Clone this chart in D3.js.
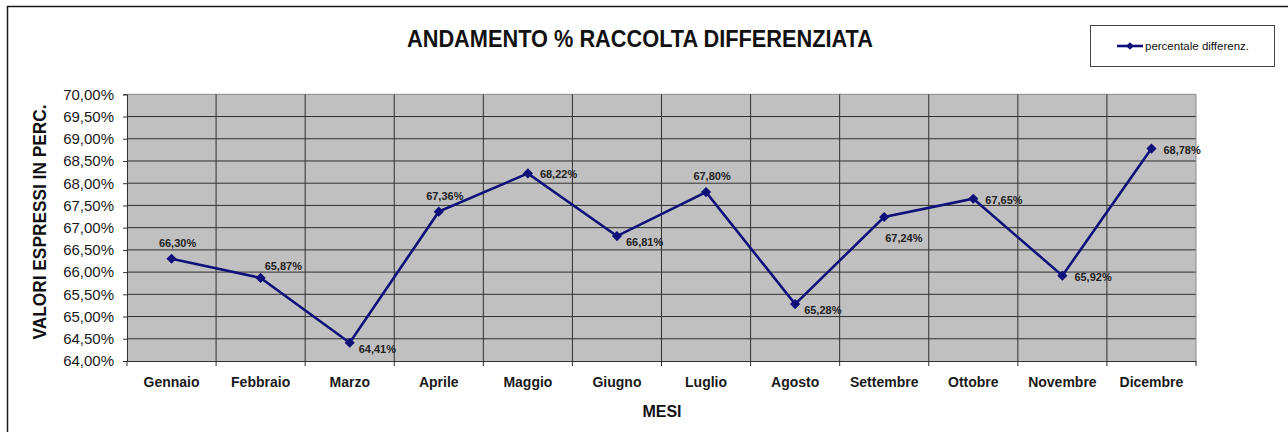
<!DOCTYPE html>
<html><head><meta charset="utf-8">
<script src="https://cdn.jsdelivr.net/npm/d3@7"></script>
<style>
html,body{margin:0;padding:0;background:#fff;}
svg{display:block;font-family:"Liberation Sans",Arial,sans-serif;}
</style></head>
<body>
<svg id="c" width="1288" height="432"></svg>
<script>
const months = ["Gennaio","Febbraio","Marzo","Aprile","Maggio","Giugno","Luglio","Agosto","Settembre","Ottobre","Novembre","Dicembre"];
const values = [66.30,65.87,64.41,67.36,68.22,66.81,67.80,65.28,67.24,67.65,65.92,68.78];
const yTicks = [64,64.5,65,65.5,66,66.5,67,67.5,68,68.5,69,69.5,70];
const labelPlacement = ["top","upRight","downRight","top","right","downRight","top","downRight","below","right","right","right"];
const seriesName = "percentale differenz.";
const title = "ANDAMENTO % RACCOLTA DIFFERENZIATA";
const yTitle = "VALORI ESPRESSI IN PERC.";
const xTitle = "MESI";

const fmt = v => v.toFixed(2).replace(".", ",") + "%";
const svg = d3.select("#c");
const L = 127, R = 1196, T = 94.3, B = 361;

// outer frame
svg.append("path").attr("d", `M7.5,432 L7.5,6.5 L1288,6.5`).attr("fill","none").attr("stroke","#1a1a1a").attr("stroke-width",1.5);

const x = d3.scaleBand().domain(months).range([L, R]).padding(0);
const y = d3.scaleLinear().domain([64, 70]).range([B, T]);

// plot background
svg.append("rect").attr("x", L).attr("y", T).attr("width", R - L).attr("height", B - T).attr("fill", "#c0c0c0");

// horizontal gridlines
svg.append("g").selectAll("line").data(yTicks.slice(1)).join("line")
  .attr("x1", L).attr("x2", R).attr("y1", d => y(d)).attr("y2", d => y(d))
  .attr("stroke", d => d === 70 ? "#8a8a8a" : "#303030").attr("stroke-width", 1);

// vertical gridlines (category boundaries)
svg.append("g").selectAll("line").data(months.slice(1)).join("line")
  .attr("x1", d => x(d)).attr("x2", d => x(d)).attr("y1", T).attr("y2", B)
  .attr("stroke", "#303030").attr("stroke-width", 1);
// right edge
svg.append("line").attr("x1", R).attr("x2", R).attr("y1", T).attr("y2", B).attr("stroke", "#8a8a8a");

// y axis
const yAxis = d3.axisLeft(y).tickValues(yTicks).tickSize(4).tickPadding(9).tickFormat(fmt);
const gy = svg.append("g").attr("transform", `translate(${L},0)`).call(yAxis);
gy.select(".domain").attr("stroke", "#303030");
gy.selectAll(".tick line").attr("stroke", "#303030");
gy.selectAll(".tick text").attr("font-size", 15).attr("fill", "#1a1a1a")
  .attr("font-family", "'Liberation Sans',Arial,sans-serif");

// x axis: ticks at category boundaries
const xAxis = d3.axisBottom(x).tickSize(0).tickPadding(16);
const gx = svg.append("g").attr("transform", `translate(0,${B})`).call(xAxis);
gx.select(".domain").attr("stroke", "#303030");
gx.selectAll(".tick text").attr("font-size", 14).attr("font-weight", "bold").attr("fill", "#1a1a1a")
  .attr("font-family", "'Liberation Sans',Arial,sans-serif");
svg.append("g").selectAll("line").data(months.concat(["__end"])).join("line")
  .attr("x1", (d, i) => i < months.length ? x(d) : R).attr("x2", (d, i) => i < months.length ? x(d) : R)
  .attr("y1", B).attr("y2", B + 5).attr("stroke", "#303030");

// line
const cx = d => x(d) + x.bandwidth() / 2;
const line = d3.line().x((d, i) => cx(months[i])).y(d => y(d));
svg.append("path").datum(values).attr("d", line).attr("fill", "none")
  .attr("stroke", "#10107a").attr("stroke-width", 2.6).attr("stroke-linejoin", "miter");

// markers
const diamond = d3.symbol().type(d3.symbolSquare).size(52);
svg.append("g").selectAll("path").data(values).join("path")
  .attr("d", diamond)
  .attr("transform", (d, i) => `translate(${cx(months[i])},${y(d)}) rotate(45)`)
  .attr("fill", "#10107a");

// data labels
const place = {
  top:       {anchor: "middle", dx: 6,  dy: -12},
  upRight:   {anchor: "start",  dx: 4,  dy: -8},
  right:     {anchor: "start",  dx: 12, dy: 5},
  downRight: {anchor: "start",  dx: 9,  dy: 10},
  below:     {anchor: "start",  dx: 1,  dy: 25}
};
svg.append("g").selectAll("text").data(values).join("text")
  .attr("x", (d, i) => cx(months[i]) + place[labelPlacement[i]].dx)
  .attr("y", (d, i) => y(d) + place[labelPlacement[i]].dy)
  .attr("text-anchor", (d, i) => place[labelPlacement[i]].anchor)
  .attr("font-size", 11).attr("font-weight", "bold").attr("fill", "#222")
  .text(fmt);

// title
svg.append("text").attr("x", 640).attr("y", 47).attr("text-anchor", "middle")
  .attr("font-size", 24).attr("font-weight", "bold").attr("fill", "#111")
  .attr("textLength", 466).attr("lengthAdjust", "spacingAndGlyphs").text(title);

// y title
svg.append("text").attr("transform", "translate(46,222) rotate(-90)").attr("text-anchor", "middle")
  .attr("font-size", 18).attr("font-weight", "bold").attr("fill", "#111")
  .attr("textLength", 235).attr("lengthAdjust", "spacingAndGlyphs").text(yTitle);

// x title
svg.append("text").attr("x", 662).attr("y", 417).attr("text-anchor", "middle")
  .attr("font-size", 16).attr("font-weight", "bold").attr("fill", "#111").text(xTitle);

// legend
const lg = svg.append("g");
lg.append("rect").attr("x", 1090.5).attr("y", 25.5).attr("width", 184).attr("height", 41)
  .attr("fill", "#fff").attr("stroke", "#444").attr("stroke-width", 1);
lg.append("line").attr("x1", 1117).attr("x2", 1143).attr("y1", 46).attr("y2", 46)
  .attr("stroke", "#10107a").attr("stroke-width", 2.6);
lg.append("path").attr("d", d3.symbol().type(d3.symbolSquare).size(30)())
  .attr("transform", "translate(1130,46) rotate(45)").attr("fill", "#10107a");
lg.append("text").attr("x", 1145).attr("y", 50).attr("font-size", 11.5).attr("fill", "#111")
  .attr("textLength", 104).attr("lengthAdjust", "spacingAndGlyphs").text(seriesName);
</script>
</body></html>
